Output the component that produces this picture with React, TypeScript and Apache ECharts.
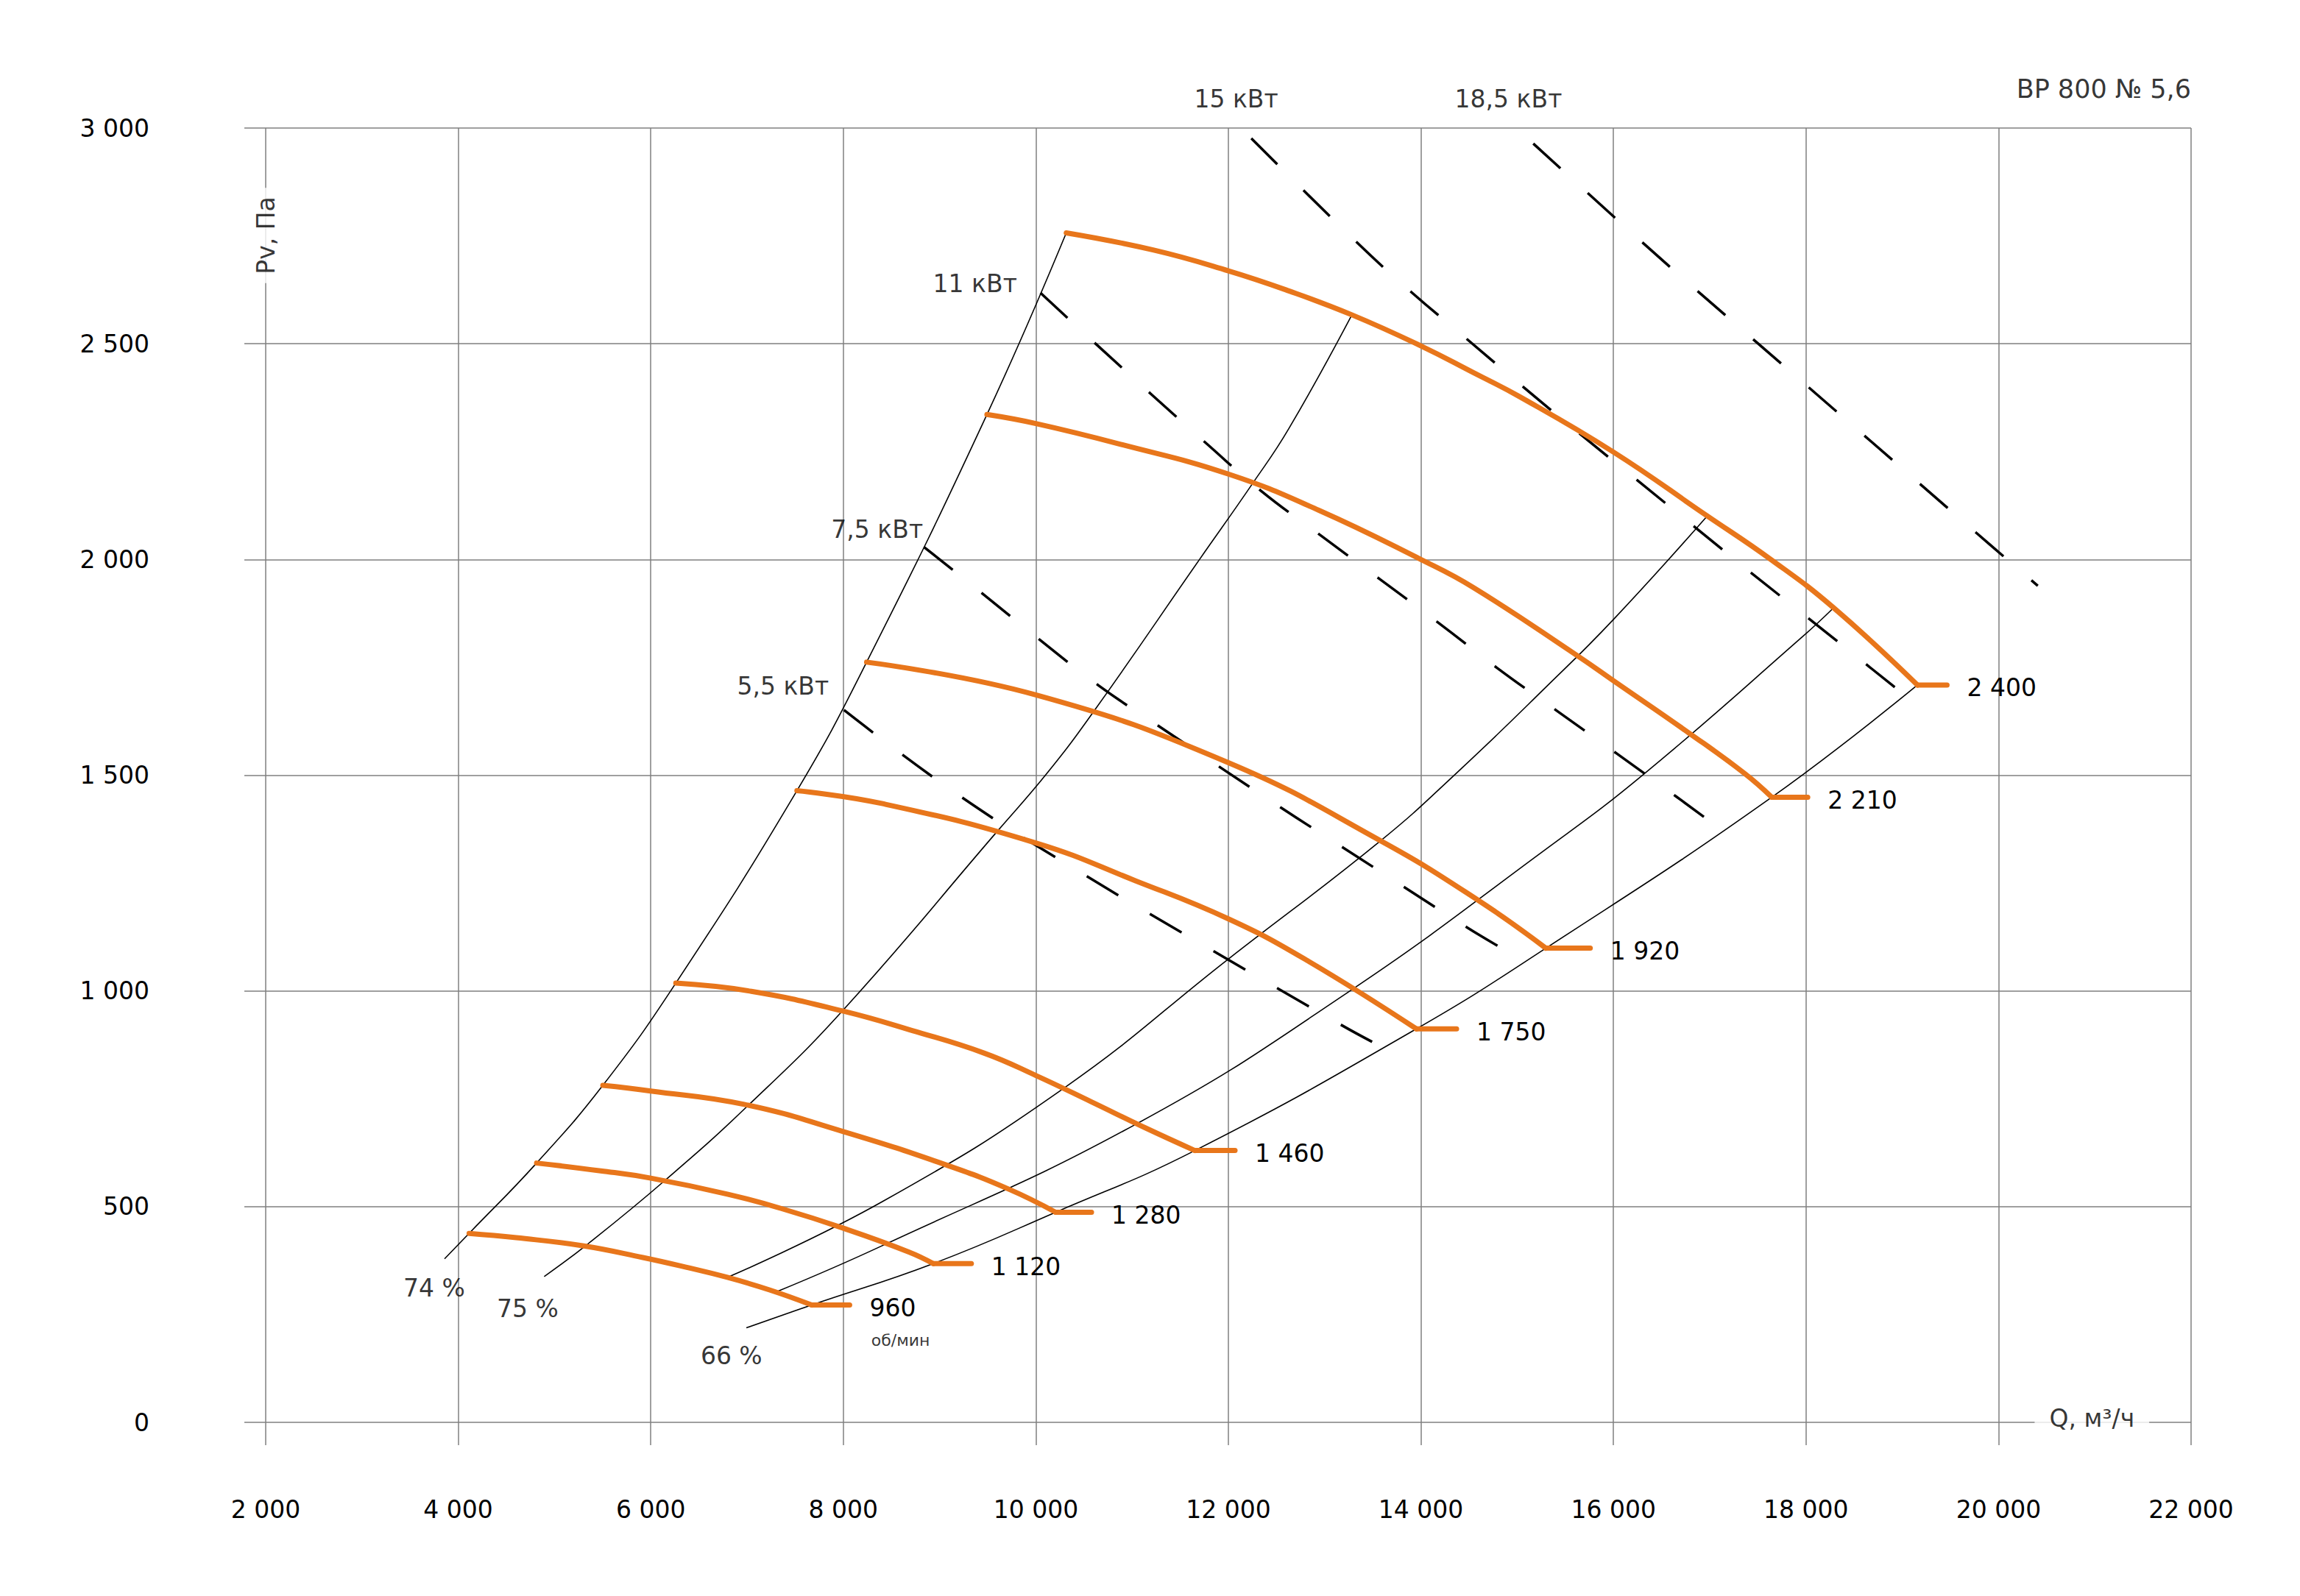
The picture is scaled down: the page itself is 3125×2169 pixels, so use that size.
import React, { useEffect, useRef } from "react";
import * as echarts from "echarts";

// ---------- axes ----------
const Q_MIN = 2000;
const Q_MAX = 22000;
const Q_STEP = 2000;
const P_MIN = 0;
const P_MAX = 3000;
const P_STEP = 500;

// ---------- fan curves (Q m3/h, Pv Pa) ----------
const RPM_LABELS = ["960", "1 120", "1 280", "1 460", "1 750", "1 920", "2 210", "2 400"];
const CURVE_960 = [[4113, 438], [4603, 428], [5305, 409], [5918, 382], [6357, 360], [6795, 336], [7233, 307], [7672, 272]];
const CURVE_1120 = [[4814, 601], [5480, 583], [6000, 566], [6795, 529], [7365, 495], [8000, 450], [8680, 395], [8935, 368]];
const CURVE_1280 = [[5502, 781], [6000, 768], [6970, 737], [8000, 674], [9089, 595], [9724, 540], [10206, 487]];
const CURVE_1460 = [[6260, 1018], [7045, 999], [8000, 953], [8717, 908], [9461, 856], [10000, 804], [10576, 743], [11133, 683], [11652, 630]];
const CURVE_1750 = [[7518, 1464], [8409, 1434], [10000, 1343], [11039, 1255], [12000, 1167], [12792, 1074], [13953, 912]];
const CURVE_1920 = [[8242, 1762], [10000, 1686], [12000, 1529], [13581, 1348], [14589, 1211], [15298, 1099]];
const CURVE_2210 = [[9492, 2336], [10000, 2315], [10881, 2267], [12000, 2198], [12940, 2114], [14000, 2000], [14545, 1935], [15625, 1777], [16000, 1719], [16783, 1598], [17363, 1504], [17645, 1449]];
const CURVE_2400 = [[10316, 2757], [11225, 2717], [12000, 2669], [12597, 2625], [13283, 2567], [14000, 2495], [14545, 2433], [15012, 2379], [16000, 2249], [16954, 2104], [17635, 2000], [18287, 1888], [19158, 1709]];
const FAN_CURVES = [CURVE_960, CURVE_1120, CURVE_1280, CURVE_1460, CURVE_1750, CURVE_1920, CURVE_2210, CURVE_2400];
// flow where the short horizontal end mark of each curve stops
const STUB_END_Q = [8066, 9330, 10578, 12069, 14370, 15759, 18018, 19465];

// ---------- power lines ----------
const POWER_LABELS = ["5,5 кВт", "7,5 кВт", "11 кВт", "15 кВт", "18,5 кВт"];
const POWER_5_5 = [[8007, 1651], [9229, 1449], [10522, 1267], [11841, 1093], [13165, 922], [13493, 882]];
const POWER_7_5 = [[8837, 2029], [9440, 1922], [10040, 1814], [10652, 1708], [11282, 1613], [12551, 1424], [13186, 1333], [13831, 1240], [14480, 1147], [14808, 1103]];
const POWER_11 = [[10048, 2618], [10621, 2500], [11194, 2384], [11766, 2270], [12339, 2159], [12951, 2057], [14184, 1853], [14795, 1748], [15408, 1650], [16035, 1550], [16649, 1451], [16965, 1399]];
const POWER_15 = [[12238, 2976], [13330, 2736], [13894, 2621], [14477, 2511], [15063, 2400], [15652, 2291], [16245, 2184], [16841, 2076], [17431, 1969], [18041, 1861], [18922, 1704]];
const POWER_18_5 = [[15167, 2964], [16300, 2735], [16869, 2623], [17448, 2511], [18596, 2289], [19768, 2062], [20408, 1939]];
const POWER_LINES = [POWER_5_5, POWER_7_5, POWER_11, POWER_15, POWER_18_5];

// ---------- efficiency lines ----------
const EFF_74 = [[3858, 379], [4113, 438], [4814, 601], [5502, 781], [6260, 1018], [7518, 1464], [8242, 1762], [9492, 2336], [10316, 2757]];
const EFF_75 = [[4893, 338], [5349, 414], [6138, 559], [7014, 735], [8000, 956], [9592, 1368], [10118, 1505], [10599, 1647], [11700, 2000], [12251, 2176], [12627, 2303], [13283, 2567]];
const EFF_A = [[6817, 338], [8409, 512], [10294, 775], [12000, 1074], [13581, 1348], [14370, 1505], [15298, 1704], [16000, 1861], [16971, 2100]];
const EFF_B = [[7321, 304], [8409, 410], [11039, 691], [13230, 995], [15290, 1327], [16324, 1504], [17969, 1822], [18287, 1888]];
const EFF_66 = [[6993, 219], [7672, 272], [8935, 368], [10206, 487], [11652, 630], [13953, 912], [15298, 1099], [17645, 1449], [19158, 1709]];
const EFF_LINES = [EFF_74, EFF_75, EFF_A, EFF_B, EFF_66];

// ---------- free texts, anchored in data units ----------
const NOTES = [
  { key: "title", text: "ВР 800 № 5,6", q: 22000, p: 3091 },
  { key: "power", text: POWER_LABELS[3], q: 12081, p: 3067 },
  { key: "power", text: POWER_LABELS[4], q: 14909, p: 3067 },
  { key: "power", text: POWER_LABELS[2], q: 9368, p: 2640 },
  { key: "power", text: POWER_LABELS[1], q: 8351, p: 2069 },
  { key: "power", text: POWER_LABELS[0], q: 7373, p: 1707 },
  { key: "eff", text: "74 %", q: 3750, p: 312 },
  { key: "eff", text: "75 %", q: 4721, p: 264 },
  { key: "eff", text: "66 %", q: 6838, p: 154 },
  { key: "unit", text: "об/мин", q: 8290, p: 191 },
  { key: "yname", text: "Pv, Па", q: 2000, p: 2751 },
  { key: "xname", text: "Q, м³/ч", q: 20970, p: 10 },
];

const FONT = '"DejaVu Sans", "Noto Sans", sans-serif';
const TEXT = "#000000";
const GRID = "#7f7f7f";
const ORANGE = "#E8761B";
const FS = 33;
const SMOOTH = 0.45;

const fmt = (v: number) => String(v).replace(/\B(?=(\d{3})+(?!\d))/g, " ");

const NOTE_STYLE: Record<string, any> = {
  title: { align: "right", fontSize: 35 },
  power: {},
  eff: {},
  unit: { align: "left", fontSize: 22 },
  yname: { rotate: 90, backgroundColor: "#ffffff", padding: [2, 12] },
  xname: { backgroundColor: "#ffffff", padding: [2, 20] },
};

function buildOption() {
  const series: any[] = [];

  EFF_LINES.forEach((d, i) => {
    series.push({
      type: "line", name: "eff" + i, data: d, showSymbol: false, symbol: "none",
      smooth: SMOOTH, silent: true, z: 2,
      lineStyle: { color: "#000", width: 1.6 },
    });
  });

  POWER_LINES.forEach((d, i) => {
    series.push({
      type: "line", name: POWER_LABELS[i], data: d, showSymbol: false, symbol: "none",
      smooth: SMOOTH, silent: true, z: 3,
      lineStyle: { color: "#000", width: 3.5, type: [50, 50] },
    });
  });

  FAN_CURVES.forEach((d, i) => {
    series.push({
      type: "line", name: RPM_LABELS[i], data: d, showSymbol: false, symbol: "none",
      smooth: SMOOTH, silent: true, z: 4,
      lineStyle: { color: ORANGE, width: 7, cap: "round", join: "round" },
    });
    const last = d[d.length - 1];
    series.push({
      type: "line", name: RPM_LABELS[i] + " end", data: [last, [STUB_END_Q[i], last[1]]],
      showSymbol: false, symbol: "none", silent: true, z: 4,
      lineStyle: { color: ORANGE, width: 7, cap: "round", join: "round" },
      endLabel: {
        show: true, formatter: RPM_LABELS[i], distance: 27, offset: [0, 4],
        color: TEXT, fontSize: FS, fontFamily: FONT, verticalAlign: "middle",
      },
    });
  });

  series.push({
    type: "scatter", name: "notes", symbol: "circle", symbolSize: 1, clip: false,
    itemStyle: { color: "rgba(0,0,0,0)" }, silent: true, z: 6,
    data: NOTES.map((n) => ({
      value: [n.q, n.p],
      label: {
        show: true, position: "inside", formatter: n.text, color: TEXT,
        fontFamily: FONT, fontSize: FS, align: "center", verticalAlign: "middle",
        ...NOTE_STYLE[n.key],
      },
    })),
  });

  return {
    animation: false,
    backgroundColor: "#ffffff",
    grid: { left: 361, right: 148, top: 174, bottom: 236, containLabel: false },
    xAxis: {
      type: "value", min: Q_MIN, max: Q_MAX, interval: Q_STEP,
      axisLine: { show: false },
      axisTick: { show: true, length: 31, lineStyle: { color: GRID, width: 1.5 } },
      splitLine: { show: true, lineStyle: { color: GRID, width: 1.5 } },
      axisLabel: {
        margin: 102, fontSize: FS, color: TEXT, fontFamily: FONT, formatter: fmt,
        showMinLabel: true, showMaxLabel: true,
      },
    },
    yAxis: {
      type: "value", min: P_MIN, max: P_MAX, interval: P_STEP,
      axisLine: { show: false },
      axisTick: { show: true, length: 29, lineStyle: { color: GRID, width: 1.5 } },
      splitLine: { show: true, lineStyle: { color: GRID, width: 1.5 } },
      axisLabel: {
        margin: 158, fontSize: FS, color: TEXT, fontFamily: FONT, formatter: fmt,
        padding: [14, 0, 0, 0], showMinLabel: true, showMaxLabel: true,
      },
    },
    series,
  };
}

export default function App() {
  const ref = useRef<HTMLDivElement>(null);
  useEffect(() => {
    if (!ref.current) return;
    const chart = echarts.init(ref.current, undefined, { renderer: "svg" });
    chart.setOption(buildOption() as any);
    return () => chart.dispose();
  }, []);
  return (
    <div
      ref={ref}
      style={{ position: "absolute", left: 0, top: 0, width: 3125, height: 2169, background: "#fff" }}
    />
  );
}
